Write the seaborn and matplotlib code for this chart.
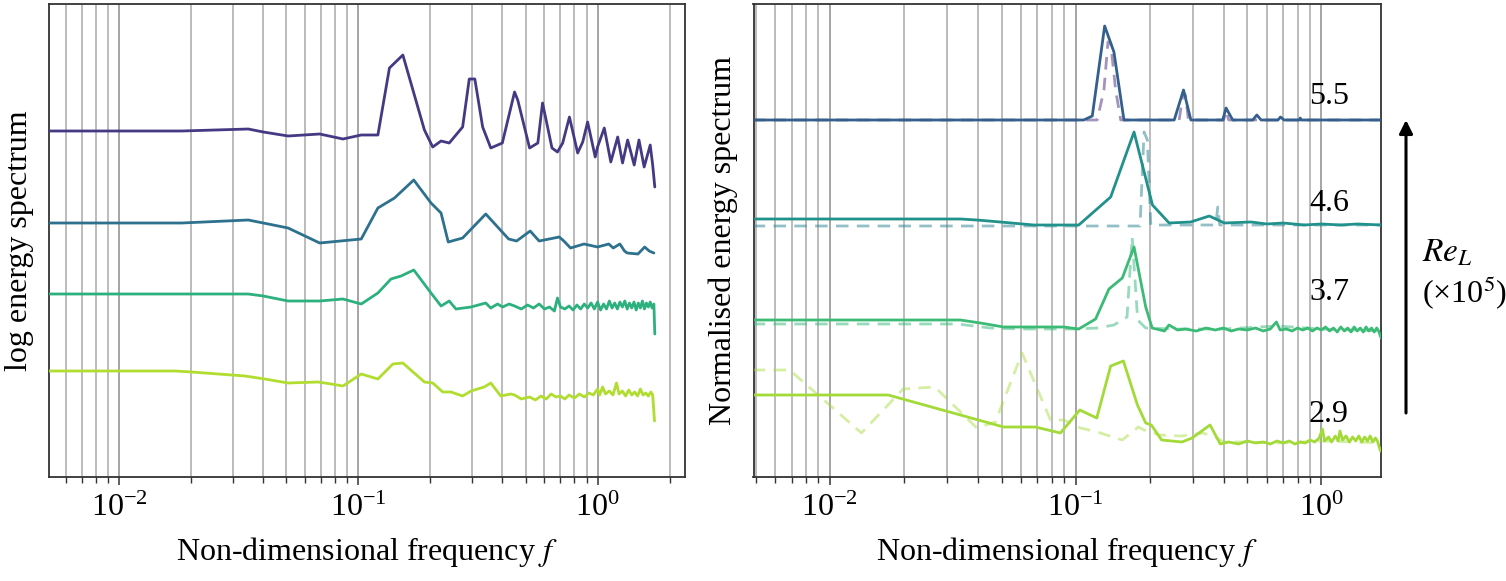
import numpy as np
import pandas as pd
import matplotlib
matplotlib.use("Agg")
import matplotlib.pyplot as plt
import seaborn as sns
from matplotlib.ticker import LogLocator, NullFormatter

# ---------------- data ----------------
# Left panel: log energy spectrum (arbitrary offset units)
L1_f = [0.004, 0.0183, 0.0347, 0.0401, 0.0509, 0.069, 0.0863, 0.1029, 0.1208, 0.135, 0.1536, 0.189,
        0.2047, 0.2218, 0.240, 0.273, 0.291, 0.307, 0.331, 0.358, 0.40, 0.45, 0.464, 0.52, 0.563, 0.589,
        0.645, 0.68, 0.715, 0.763, 0.826, 0.867, 0.909, 0.978, 1.0, 1.067, 1.136, 1.214, 1.272, 1.336,
        1.423, 1.49, 1.566, 1.66, 1.70, 1.735]
L1_v = [348, 348, 350, 347, 343, 345, 340, 344, 344, 411, 424, 349, 332, 338, 336, 352, 400, 400, 352,
        331, 336, 387, 379, 331, 336, 376, 331, 327, 336, 362, 326, 337, 357, 322, 332, 351, 317, 342,
        316, 339, 314, 339, 312, 334, 314, 292]

L2_f = [0.004, 0.0183, 0.0347, 0.0401, 0.0509, 0.069, 0.1029, 0.1208, 0.1417, 0.1706, 0.2014, 0.2218,
        0.2377, 0.273, 0.341, 0.425, 0.459, 0.523, 0.570, 0.692, 0.723, 0.771, 0.878, 1.0, 1.114, 1.163,
        1.24, 1.296, 1.33, 1.475, 1.574, 1.644, 1.72]
L2_v = [256, 256, 259, 256, 251, 236, 240, 271, 281, 299, 276, 266, 237, 241, 265, 240, 238, 248, 238,
        242, 238, 231, 235, 232, 235, 231, 235, 228, 226, 225, 232, 228, 226]

L3_f = [0.004, 0.0183, 0.0347, 0.0401, 0.0509, 0.069, 0.0863, 0.1029, 0.1208, 0.137, 0.151, 0.1706,
        0.2014, 0.2218, 0.240, 0.256, 0.296, 0.341, 0.358, 0.382, 0.401, 0.427, 0.45, 0.48, 0.51, 0.54,
        0.57, 0.60, 0.63, 0.66, 0.68, 0.70, 0.73, 0.76, 0.79, 0.82, 0.85, 0.88, 0.91, 0.94, 0.97, 1.0,
        1.03, 1.06, 1.09, 1.12, 1.15, 1.18, 1.21, 1.24, 1.27, 1.30, 1.33, 1.36, 1.39, 1.42, 1.45, 1.48,
        1.51, 1.54, 1.57, 1.60, 1.63, 1.66, 1.69, 1.72, 1.735]
L3_v = [185, 185, 185, 183, 178, 178, 180, 175, 186, 200, 203, 209, 186, 173, 178, 170, 172, 176, 171,
        175, 172, 175, 173, 170, 174, 171, 175, 170, 172, 168, 181, 172, 170, 173, 169, 174, 170, 175,
        171, 176, 170, 177, 169, 175, 170, 178, 171, 176, 170, 177, 172, 178, 170, 176, 171, 177, 169,
        176, 171, 178, 170, 176, 172, 177, 171, 175, 145]

L4_f = [0.004, 0.0172, 0.0201, 0.0336, 0.0407, 0.0509, 0.0679, 0.0772, 0.0863, 0.1029, 0.1208, 0.1395,
        0.1536, 0.189, 0.2047, 0.2255, 0.244, 0.273, 0.296, 0.336, 0.358, 0.394, 0.434, 0.45, 0.48, 0.52,
        0.55, 0.58, 0.61, 0.64, 0.67, 0.70, 0.73, 0.76, 0.80, 0.84, 0.88, 0.92, 0.96, 1.0, 1.02, 1.05,
        1.08, 1.12, 1.16, 1.2, 1.23, 1.27, 1.31, 1.35, 1.39, 1.43, 1.47, 1.51, 1.55, 1.59, 1.63, 1.67,
        1.70, 1.73]
L4_v = [108, 108, 107, 103, 100, 96, 97, 95, 93, 105, 100, 115, 116, 97, 96, 87, 87, 83, 88, 92, 96,
        83, 85, 84, 80, 82, 79, 83, 80, 85, 82, 83, 80, 84, 81, 85, 82, 86, 84, 90, 84, 92, 85, 88, 84,
        96, 85, 88, 83, 89, 84, 87, 83, 90, 84, 86, 83, 87, 84, 58]

# Right panel: normalised energy spectrum, solid and dashed per Re_L
R55_f = [0.004, 0.108, 0.117, 0.1314, 0.1433, 0.1574, 0.252, 0.275, 0.2946, 0.397, 0.4095, 0.436, 0.526,
         0.5465, 0.569, 0.666, 0.682, 0.705, 0.815, 0.82, 0.829, 1.76]
R55_v = [357, 357, 361, 451, 425, 357, 357, 387, 357, 357, 369, 357, 357, 362, 357, 357, 360, 357, 357,
         359, 357, 357]
R55d_f = [0.004, 0.1225, 0.1305, 0.1355, 0.139, 0.1456, 0.1527, 0.264, 0.274, 0.280, 0.288, 0.40, 0.41,
          0.42, 1.76]
R55d_v = [357, 357, 387, 435, 434, 387, 357, 357, 384, 382, 357, 357, 366, 357, 357]

R46_f = [0.004, 0.034, 0.0397, 0.0494, 0.0676, 0.1031, 0.139, 0.173, 0.2056, 0.2403, 0.294, 0.350,
         0.403, 0.518, 0.60, 0.70, 0.85, 1.0, 1.2, 1.4, 1.76]
R46_v = [258, 258, 257, 255, 252, 252, 280, 345, 272, 254, 255, 261, 254, 255, 253, 254, 252, 253, 252,
         253, 252]
R46d_f = [0.004, 0.183, 0.190, 0.196, 0.2024, 0.372, 0.379, 0.386, 1.76]
R46d_v = [251, 251, 345, 337, 252, 252, 270, 252, 252]

R37_f = [0.004, 0.034, 0.041, 0.051, 0.0896, 0.1031, 0.1207, 0.1368, 0.155, 0.173, 0.193, 0.205, 0.23,
         0.24, 0.26, 0.28, 0.31, 0.34, 0.37, 0.40, 0.43, 0.46, 0.50, 0.54, 0.58, 0.62, 0.656, 0.68, 0.72,
         0.76, 0.80, 0.84, 0.88, 0.92, 0.96, 1.0, 1.04, 1.08, 1.12, 1.16, 1.2, 1.24, 1.28, 1.32, 1.36,
         1.40, 1.44, 1.48, 1.52, 1.56, 1.60, 1.64, 1.68, 1.71, 1.75]
R37_v = [157, 157, 154, 150, 150, 148, 158, 188, 199, 230, 170, 149, 146, 152, 147, 148, 146, 149, 147,
         149, 146, 148, 147, 149, 146, 148, 155, 147, 148, 146, 149, 147, 149, 146, 149, 147, 150, 146,
         149, 145, 150, 146, 149, 145, 150, 146, 149, 145, 150, 146, 149, 145, 149, 146, 139]
R37d_f = [0.004, 0.033, 0.045, 0.06, 0.10, 0.1226, 0.1433, 0.162, 0.170, 0.179, 0.193, 0.25, 0.40, 0.66,
          1.0, 1.75]
R37d_v = [153, 153, 149, 148, 148, 149, 152, 160, 240, 157, 149, 148, 148, 151, 148, 146]

R29_f = [0.004, 0.0173, 0.051, 0.0687, 0.0868, 0.1041, 0.122, 0.139, 0.1566, 0.1786, 0.193, 0.2034,
         0.224, 0.271, 0.298, 0.3526, 0.388, 0.42, 0.46, 0.50, 0.54, 0.58, 0.62, 0.66, 0.70, 0.74, 0.78,
         0.82, 0.86, 0.90, 0.94, 0.98, 1.01, 1.03, 1.07, 1.1, 1.14, 1.17, 1.19, 1.22, 1.26, 1.3, 1.34,
         1.38, 1.42, 1.46, 1.5, 1.54, 1.58, 1.62, 1.66, 1.69, 1.74]
R29_v = [82, 82, 50, 50, 44, 67, 59, 111, 116, 72, 54, 52, 37, 35, 39, 52, 33, 35, 33, 36, 34, 35, 33,
         36, 34, 36, 33, 35, 34, 37, 35, 39, 48, 36, 40, 35, 41, 36, 46, 37, 41, 35, 40, 36, 41, 35, 40,
         36, 41, 35, 39, 36, 26]
R29d_f = [0.004, 0.00687, 0.01347, 0.0199, 0.0268, 0.0397, 0.0472, 0.0606, 0.0791, 0.0896, 0.1048,
          0.1226, 0.155, 0.18, 0.19, 0.22, 0.27, 0.33, 0.37, 0.40, 0.5, 0.7, 1.0, 1.4, 1.74]
R29d_v = [107, 107, 44, 88, 90, 49, 55, 124, 57, 57, 49, 45, 37, 50, 47, 42, 41, 44, 40, 35, 35, 34, 36,
          35, 34]

RE_LABELS = ["5.5", "4.6", "3.7", "2.9"]

# ---------------- style ----------------
sns.set_style("white")
plt.rcParams['font.family'] = ['Liberation Serif', 'DejaVu Serif']
plt.rcParams['mathtext.fontset'] = 'stix'
plt.rcParams['text.color'] = 'black'
plt.rcParams['axes.labelcolor'] = 'black'
plt.rcParams['xtick.color'] = 'black'
FS = 23

fig = plt.figure(figsize=(15.06, 5.81), dpi=100)
axL = fig.add_axes([49 / 1506, (581 - 477) / 581, 636 / 1506, 473 / 581])
axR = fig.add_axes([753.5 / 1506, (581 - 477) / 581, 627 / 1506, 473 / 581])

cmap = sns.color_palette("viridis", as_cmap=True)


def draw(ax, f, v, color, ls='-', alpha=1.0, lw=2.0):
    df = pd.DataFrame({'f': f, 'v': v})
    sns.lineplot(data=df, x='f', y='v', ax=ax, color=color, linewidth=lw, sort=False,
                 estimator=None, alpha=alpha, linestyle=ls, zorder=3)


for ax in (axL, axR):
    ax.set_xscale('log')

draw(axL, L1_f, L1_v, cmap(0.17))
draw(axL, L2_f, L2_v, cmap(0.37))
draw(axL, L3_f, L3_v, cmap(0.64))
draw(axL, L4_f, L4_v, cmap(0.88))

dash = (0, (4.5, 3))
draw(axR, R55d_f, R55d_v, cmap(0.12), ls=dash, alpha=0.5)
draw(axR, R55_f, R55_v, cmap(0.30))
draw(axR, R46d_f, R46d_v, cmap(0.44), ls=dash, alpha=0.5)
draw(axR, R46_f, R46_v, cmap(0.50))
draw(axR, R37d_f, R37d_v, cmap(0.66), ls=dash, alpha=0.5)
draw(axR, R37_f, R37_v, cmap(0.68))
draw(axR, R29d_f, R29d_v, cmap(0.86), ls=dash, alpha=0.45)
draw(axR, R29_f, R29_v, cmap(0.86))

axL.set_xlim(0.0051, 2.32)
axL.set_ylim(2, 475)
axR.set_xlim(0.0049, 1.74)
axR.set_ylim(0, 473)

for ax in (axL, axR):
    ax.xaxis.set_major_locator(LogLocator(base=10, numticks=10))
    ax.xaxis.set_minor_locator(LogLocator(base=10, subs=np.arange(2, 10), numticks=30))
    ax.xaxis.set_minor_formatter(NullFormatter())
    ax.set_yticks([])
    ax.grid(True, axis='x', which='major', color='#8c8c8c', linewidth=1.1, zorder=0)
    ax.grid(True, axis='x', which='minor', color='#aaaaaa', linewidth=1.1, zorder=0)
    ax.grid(False, axis='y')
    ax.tick_params(axis='x', which='major', direction='out', bottom=True, length=6, width=1.1,
                   color='#333333', labelcolor='black', labelsize=FS, pad=6)
    ax.tick_params(axis='x', which='minor', direction='out', bottom=True, length=4, width=1.0,
                   color='#333333')
    for sp in ax.spines.values():
        sp.set_color('#333333')
        sp.set_linewidth(1.3)
    ax.set_xlabel('Non-dimensional frequency $f$', fontsize=FS, labelpad=9, color='black')

axL.set_ylabel('log energy spectrum', fontsize=FS, color='black')
axL.yaxis.set_label_coords(-0.024, 0.5)
axR.set_ylabel('Normalised energy spectrum', fontsize=FS, color='black')
axR.yaxis.set_label_coords(-0.024, 0.5)

# Re_L labels beside the right-panel curves
label_y = [0.805, 0.579, 0.391, 0.133]
for txt, yy in zip(RE_LABELS, label_y):
    axR.text(0.886, yy, txt, transform=axR.transAxes, fontsize=FS, ha='left', va='center',
             color='black')

# arrow and Re_L annotation
axR.annotate('', xy=(1406 / 1506, (581 - 120) / 581), xytext=(1406 / 1506, (581 - 413) / 581),
             xycoords='figure fraction', textcoords='figure fraction',
             arrowprops=dict(arrowstyle='-|>', color='black', lw=2.2, mutation_scale=20,
                             shrinkA=0, shrinkB=0))
fig.text(1447 / 1506, (581 - 253) / 581, '$Re_L$', fontsize=FS + 1, ha='center', va='center',
         color='black')
fig.text(1465 / 1506, (581 - 292) / 581, '(×10$^5$)', fontsize=FS, ha='center', va='center',
         color='black')

fig.savefig('out.png', dpi=100)
